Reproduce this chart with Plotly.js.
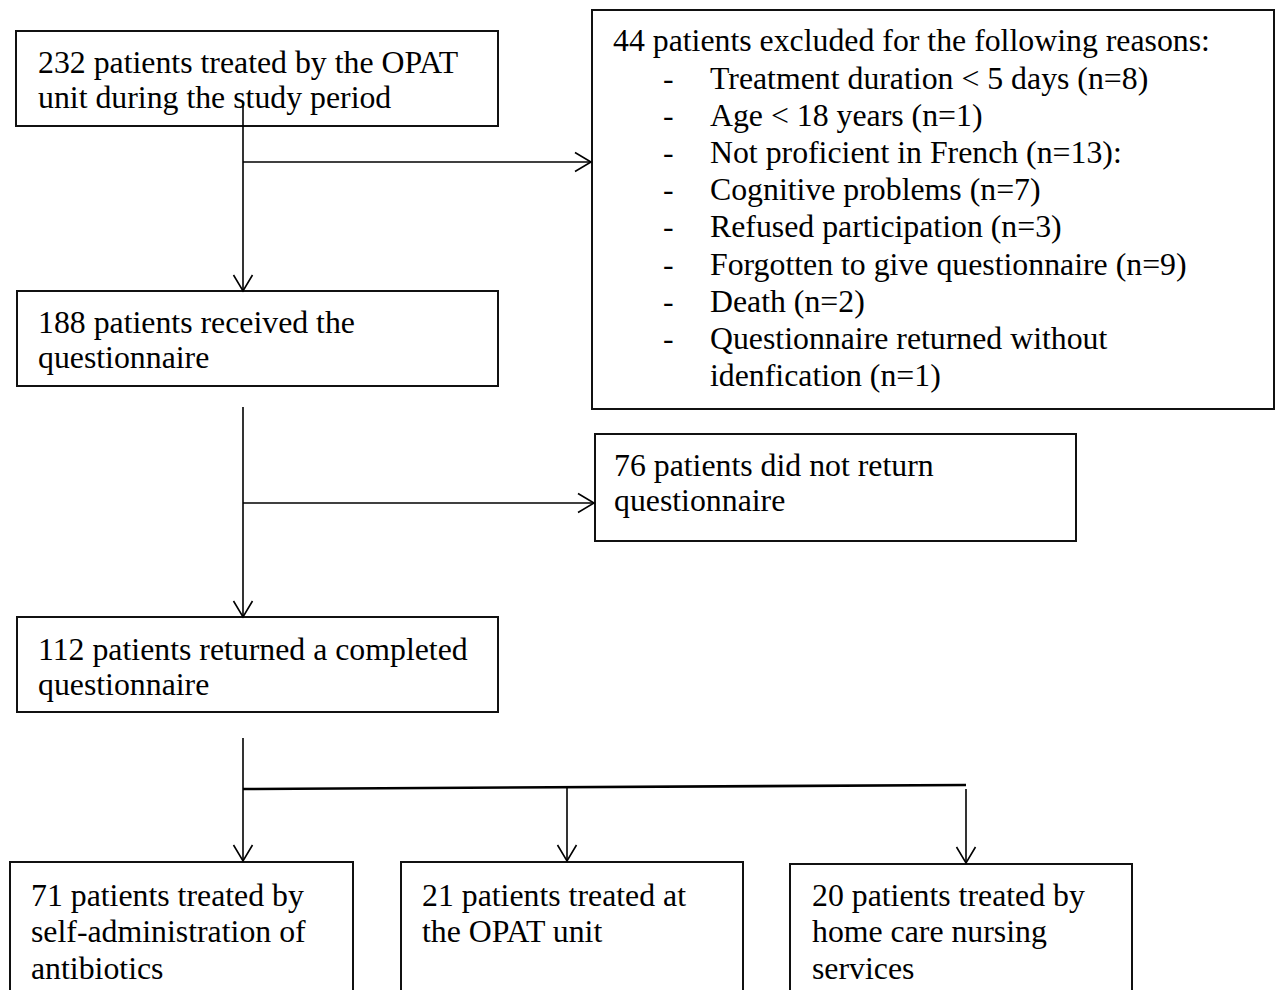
<!DOCTYPE html>
<html>
<head>
<meta charset="utf-8">
<script src="https://cdn.plot.ly/plotly-3.0.1.min.js"></script>
<style>
  html, body { margin: 0; padding: 0; background: #ffffff; }
  #chart { width: 1278px; height: 990px; }
</style>
</head>
<body>
<div id="chart"></div>
<script>
// ---------------- DATA (text content of the flowchart) ----------------
const startLines      = ["232 patients treated by the OPAT", "unit during the study period"];
const excludedTitle   = "44 patients excluded for the following reasons:";
const exclusionItems  = [
  ["Treatment duration &lt; 5 days (n=8)"],
  ["Age &lt; 18 years (n=1)"],
  ["Not proficient in French (n=13):"],
  ["Cognitive problems (n=7)"],
  ["Refused participation (n=3)"],
  ["Forgotten to give questionnaire (n=9)"],
  ["Death (n=2)"],
  ["Questionnaire returned without", "idenfication (n=1)"]
];
const receivedLines   = ["188 patients received the", "questionnaire"];
const notReturned     = ["76 patients did not return", "questionnaire"];
const completedLines  = ["112 patients returned a completed", "questionnaire"];
const groupLines      = [
  ["71 patients treated by", "self-administration of", "antibiotics"],
  ["21 patients treated at", "the OPAT unit"],
  ["20 patients treated by", "home care nursing", "services"]
];

// ---------------- LAYOUT GEOMETRY (pixel space) ----------------
const W = 1278, H = 990;
const FONT = {family: "'Liberation Serif', 'Times New Roman', serif", size: 31.8, color: "#000000"};
const BASE_OFF = 10.7;   // baseline -> annotation centre
const GAP = 35.6;        // normal line gap
const GAP_LIST = 37.2;   // line gap in exclusion box

const boxes = [
  {x0: 16,  y0: 31,  x1: 498,  y1: 126},  // start
  {x0: 592, y0: 10,  x1: 1274, y1: 409},  // excluded
  {x0: 17,  y0: 291, x1: 498,  y1: 386},  // received
  {x0: 595, y0: 434, x1: 1076, y1: 541},  // not returned
  {x0: 17,  y0: 617, x1: 498,  y1: 712},  // completed
  {x0: 10,  y0: 862, x1: 353,  y1: 1000}, // group 1
  {x0: 401, y0: 862, x1: 743,  y1: 1000}, // group 2
  {x0: 790, y0: 864, x1: 1132, y1: 1000}  // group 3
];

const shapes = [];
const annotations = [];
const LINE = {color: "#000000", width: 1.6};

boxes.forEach(b => shapes.push({
  type: "rect", xref: "x", yref: "y", x0: b.x0, y0: b.y0, x1: b.x1, y1: b.y1,
  line: {color: "#111111", width: 2}, fillcolor: "rgba(0,0,0,0)"
}));

function seg(x0, y0, x1, y1, w) {
  shapes.push({type: "line", xref: "x", yref: "y", x0, y0, x1, y1,
    line: {color: LINE.color, width: w || LINE.width}});
}
function headDown(x, y) {
  shapes.push({type: "path", xref: "x", yref: "y",
    path: `M ${x - 9.5} ${y - 16} L ${x} ${y} L ${x + 9.5} ${y - 16}`,
    line: {color: LINE.color, width: LINE.width}});
}
function headRight(x, y) {
  shapes.push({type: "path", xref: "x", yref: "y",
    path: `M ${x - 16} ${y - 9.5} L ${x} ${y} L ${x - 16} ${y + 9.5}`,
    line: {color: LINE.color, width: LINE.width}});
}

// connectors
seg(243, 102, 243, 291); headDown(243, 291);
seg(243, 162, 591, 162); headRight(591, 162);
seg(243, 407, 243, 617); headDown(243, 617);
seg(243, 503, 594, 503); headRight(594, 503);
seg(243, 738, 243, 861); headDown(243, 861);
seg(243, 789, 966, 785, 2.6);
seg(567, 787, 567, 861); headDown(567, 861);
seg(966, 789, 966, 863); headDown(966, 863);

function textLines(lines, x, baseline, gap) {
  lines.forEach((t, i) => annotations.push({
    xref: "x", yref: "y", x: x, y: baseline + i * gap - BASE_OFF,
    xanchor: "left", yanchor: "middle", text: t, showarrow: false,
    font: FONT, borderpad: 0, align: "left"
  }));
}

textLines(startLines, 37, 72.7, GAP);
textLines([excludedTitle], 612, 51.5, GAP_LIST);
let row = 1;
exclusionItems.forEach(item => {
  textLines(["-"], 662, 51.5 + row * GAP_LIST, GAP_LIST);
  textLines(item, 709, 51.5 + row * GAP_LIST, GAP_LIST);
  row += item.length;
});
textLines(receivedLines, 37, 332.7, GAP);
textLines(notReturned, 613, 475.7, GAP);
textLines(completedLines, 37, 659.7, GAP);
const groupX = [30, 421, 811];
groupLines.forEach((g, i) => textLines(g, groupX[i], 905.7, 36.6));

const layout = {
  width: W, height: H,
  margin: {l: 0, r: 0, t: 0, b: 0},
  paper_bgcolor: "#ffffff", plot_bgcolor: "#ffffff",
  xaxis: {range: [0, W], visible: false, fixedrange: true},
  yaxis: {range: [H, 0], visible: false, fixedrange: true},
  showlegend: false,
  shapes: shapes,
  annotations: annotations
};

Plotly.newPlot("chart", [{x: [], y: [], type: "scatter", mode: "markers", hoverinfo: "skip"}], layout,
  {staticPlot: true, displayModeBar: false});
</script>
</body>
</html>
